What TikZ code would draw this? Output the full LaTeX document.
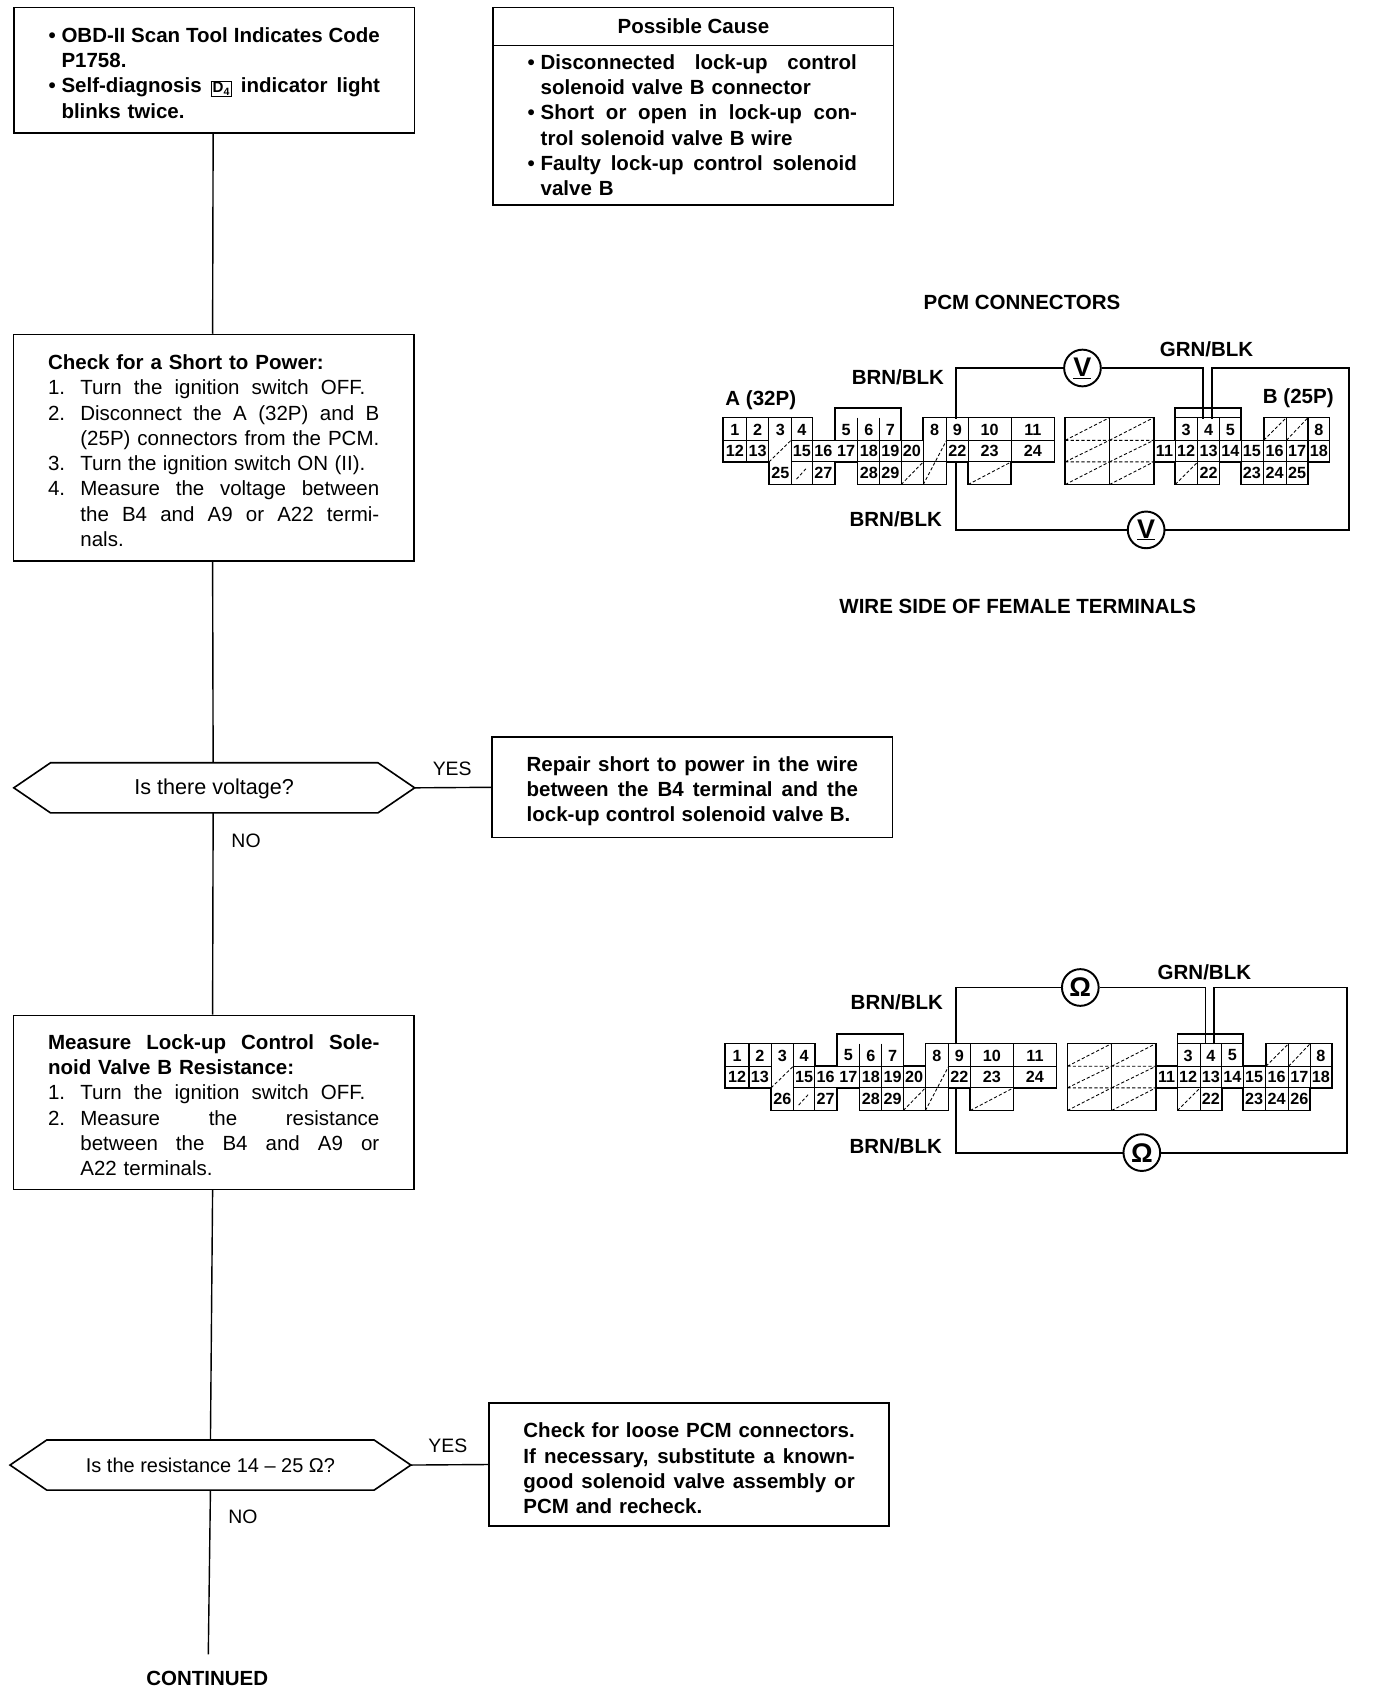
\documentclass[tikz,border=0pt]{standalone}
\usepackage{fontspec}
\setmainfont{Liberation Sans}
\usetikzlibrary{calc}
\newcommand{\fullline}[2]{\makebox[#1pt][s]{\spaceskip=0pt\xspaceskip=0pt #2}}
\newcommand{\tp}{\rule{0pt}{19pt}}
\newcommand{\tpp}{\rule{0pt}{21pt}}
\newcommand{\bul}[1]{\makebox[12pt][l]{\textbullet}\fullline{295}{#1}}
\newcommand{\bulr}[1]{\makebox[12pt][l]{\textbullet}#1}
\newcommand{\cont}[1]{\hspace*{12pt}#1}
\newcommand{\stp}[2]{\makebox[30pt][l]{#1}#2}
\newcommand{\stc}[1]{\hspace*{30pt}#1}
\newcommand{\hexline}[1]{\draw[hexl] (#1.west) -- ([xshift=34pt]#1.north west) -- ([xshift=-34pt]#1.north east) -- (#1.east) -- ([xshift=-34pt]#1.south east) -- ([xshift=34pt]#1.south west) -- cycle;}
\newcommand{\pcmconn}[3]{%
  \draw[outl] (670,387) -- (753,387) -- (753,408) -- (773.5,408) -- (773.5,378) -- (835,378) -- (835,408) -- (855.5,408) -- (855.5,387) -- (977,387) -- (977,428) -- (937,428) -- (937,449) -- (897,449) -- (897,428) -- (877,428) -- (877,449) -- (794.5,449) -- (794.5,428) -- (773.5,428) -- (773.5,449) -- (712.5,449) -- (712.5,428) -- (670,428) -- cycle;
  \draw[outl] (987,387) rectangle (1069,449);
  \draw[outl] (1069,408) -- (1089,408) -- (1089,378) -- (1150,378) -- (1150,408) -- (1171,408) -- (1171,387) -- (1232,387) -- (1232,428) -- (1212,428) -- (1212,449) -- (1150,449) -- (1150,428) -- (1130,428) -- (1130,449) -- (1089,449) -- (1089,428) -- (1069,428);
  \draw[gridl] (670,408) -- (712.5,408) (733,408) -- (835,408) (877,408) -- (977,408)
    (733,428) -- (773.5,428) (794.5,428) -- (877,428) (897,428) -- (937,428)
    (692,387) -- (692,428) (712.5,387) -- (712.5,428) (733,387) -- (733,449) (753,408) -- (753,449)
    (794.5,387) -- (794.5,428) (815,387) -- (815,449) (835,408) -- (835,449) (855.5,408) -- (855.5,449)
    (877,387) -- (877,428) (897,387) -- (897,428) (937,387) -- (937,428)
    (1028,387) -- (1028,449)
    (1089,408) -- (1150,408) (1171,408) -- (1232,408) (1089,428) -- (1130,428) (1150,428) -- (1212,428)
    (1089,387) -- (1150,387)
    (1110,387) -- (1110,449) (1130,387) -- (1130,428) (1150,408) -- (1150,428) (1171,408) -- (1171,449)
    (1192,387) -- (1192,449) (1212,387) -- (1212,428) (1089,408) -- (1089,428);
  \draw[hatchl] (987,408) -- (1069,408) (987,428) -- (1069,428)
    (712.5,428) -- (733,408) (738,444) -- (748,433) (835,449) -- (855.5,428) (855.5,449) -- (877,408) (897,449) -- (937,428)
    (987,408) -- (1028,387) (1028,408) -- (1069,387) (987,428) -- (1028,408) (1028,428) -- (1069,408) (987,449) -- (1028,428) (1028,449) -- (1069,428)
    (1089,449) -- (1110,428) (1171,408) -- (1192,387) (1192,408) -- (1212,387);
  \foreach \nm/\px/\py/\lab in {A1/681/398/1,A2/702/398/2,A3/723/398/3,A4/743/398/4,A5/784/398/5,A6/805/398/6,A7/825/398/7,A8/866/398/8,A9/887/398/9,A10/917/398/10,A11/957/398/11,
    A12/681/418/12,A13/702/418/13,A15/743/418/15,A16/763/418/16,A17/784/418/17,A18/805/418/18,A19/825/418/19,A20/845/418/20,A22/887/418/22,A23/917/418/23,A24/957/418/24,
    A25/723/438.5/#2,A27/763/438.5/27,A28/805/438.5/28,A29/825/438.5/29,
    B3/1099/398/3,B4/1120/398/4,B5/1140/398/5,B8/1222/398/8,
    B11/1079/418/11,B12/1099/418/12,B13/1120/418/13,B14/1140/418/14,B15/1160/418/15,B16/1181/418/16,B17/1202/418/17,B18/1222/418/18,
    B22/1120/438.5/22,B23/1160/438.5/23,B24/1181/438.5/24,B25/1202/438.5/#3}
    {\node[num] (#1-\nm) at (\px,\py) {\lab};}
}
\tikzset{
  x=1pt,y=-1pt,
  fbox/.style={draw=black,line width=1.5pt,inner xsep=32pt,inner ysep=0pt,text width=307pt,align=left,minimum width=371pt,font=\fontsize{19}{23.4}\selectfont},
  bbody/.style={fbox,font=\fontsize{19}{23.4}\selectfont\bfseries},
  hexa/.style={minimum width=371pt,minimum height=46pt,inner sep=0pt,text height=13pt,text depth=0pt},
  hexl/.style={line width=1.5pt},
  flow/.style={line width=1.3pt},
  lbl/.style={font=\fontsize{18}{22}\selectfont,inner sep=0pt},
  blbl/.style={font=\fontsize{19}{22}\selectfont\bfseries,inner sep=0pt},
  num/.style={font=\fontsize{15}{16}\selectfont\bfseries,inner sep=0pt,minimum width=20pt,minimum height=20pt},
  outl/.style={line width=1.5pt,line join=miter},
  gridl/.style={line width=1pt},
  hatchl/.style={line width=0.8pt,densely dashed},
  wire/.style={line width=1.8pt},
  meter/.style={draw=black,circle,line width=1.8pt,minimum size=34pt,inner sep=0pt,fill=white,font=\fontsize{25}{25}\selectfont\bfseries},
}
\begin{document}
\begin{tikzpicture}
\useasboundingbox (0,0) rectangle (1275,1567.8);
\fill[white] (0,0) rectangle (1275,1567.8);
% left column boxes
\node[bbody,minimum height=116pt] (start) at (198.5,65) {\tp\bul{OBD-II Scan Tool Indicates Code}\\ \cont{P1758.}\\ \bul{Self-diagnosis {\fboxsep=1pt\fboxrule=0.8pt\fbox{\fontsize{14}{14}\selectfont D\textsubscript{4}}} indicator light}\\ \cont{blinks twice.}};
\node[fbox,minimum height=210pt] (short) at (198,415) {\tp\textbf{Check for a Short to Power:}\\ \stp{1.}{\fullline{264}{Turn the ignition switch OFF.}}\\ \stp{2.}{\fullline{277}{Disconnect the A (32P) and B}}\\ \stc{\fullline{277}{(25P) connectors from the PCM.}}\\ \stp{3.}{\fullline{264}{Turn the ignition switch ON (II).}}\\ \stp{4.}{\fullline{277}{Measure the voltage between}}\\ \stc{\fullline{277}{the B4 and A9 or A22 termi-}}\\ \stc{nals.}};
\node[hexa,font=\fontsize{20}{22}\selectfont] (q1) at (198.5,730) {Is there voltage?};
\hexline{q1}
\node[fbox,minimum height=161pt] (meas) at (198,1021.5) {\tp\textbf{\fullline{307}{Measure Lock-up Control Sole-}}\\ \textbf{noid Valve B Resistance:}\\ \stp{1.}{\fullline{264}{Turn the ignition switch OFF.}}\\ \stp{2.}{\fullline{277}{Measure the resistance}}\\ \stc{\fullline{277}{between the B4 and A9 or}}\\ \stc{A22 terminals.}};
\node[hexa,font=\fontsize{18.5}{22}\selectfont] (q2) at (195,1357.5) {Is the resistance 14 – 25 Ω?};
\hexline{q2}
\coordinate (cont) at (193,1533);
\node[blbl] (contl) at (192,1555) {CONTINUED};
% right column boxes
\node[draw=black,line width=1.5pt,minimum width=371pt,minimum height=35pt,inner sep=0pt,font=\fontsize{19}{22}\selectfont\bfseries] (pch) at (642.5,24.5) {Possible Cause};
\node[bbody,minimum height=148pt] (pcb) at (642.5,116) {\bulr{\fullline{293}{Disconnected lock-up control}}\\ \cont{solenoid valve B connector}\\ \bulr{\fullline{293}{Short or open in lock-up con-}}\\ \cont{trol solenoid valve B wire}\\ \bulr{\fullline{293}{Faulty lock-up control solenoid}}\\ \cont{valve B}};
\node[bbody,minimum height=93pt] (rep) at (641.5,729.5) {\tpp\fullline{307}{Repair short to power in the wire}\\ \fullline{307}{between the B4 terminal and the}\\ \fullline{300}{lock-up control solenoid valve B.}};
\node[bbody,minimum height=114pt] (chk) at (638.5,1357) {\tpp\fullline{307}{Check for loose PCM connectors.}\\ \fullline{307}{If necessary, substitute a known-}\\ \fullline{307}{good solenoid valve assembly or}\\ PCM and recheck.};
% flow connectors
\draw[flow] ([xshift=-1pt]start.south) -- ([xshift=-1pt]short.north);
\draw[flow] ([xshift=-1pt]short.south) -- ([xshift=-1pt]q1.north);
\draw[flow] ([xshift=-1pt]q1.south) -- ([xshift=-1pt]meas.north);
\draw[flow] ([xshift=-1pt]meas.south) -- (q2.north);
\draw[flow] (q2.south) -- (cont);
\draw[flow] (q1.east) -- (rep.west);
\draw[flow] (q2.east) -- (chk.west);
\node[lbl] (y1) at (419,712) {YES};
\node[lbl] (n1) at (228,779) {NO};
\node[lbl] (y2) at (415,1340) {YES};
\node[lbl] (n2) at (225,1405) {NO};
% connectors: voltage test
\pcmconn{c}{25}{25}
\node[blbl] (pcm) at (947,280) {PCM CONNECTORS};
\node[blbl] (wside) at (943,562) {WIRE SIDE OF FEMALE TERMINALS};
\node[blbl] (grn1) at (1118,324) {GRN/BLK};
\node[blbl] (brn1) at (832,350) {BRN/BLK};
\node[blbl] (brn2) at (830,481) {BRN/BLK};
\node[blbl,anchor=west] (la) at (672,371) {A (32P)};
\node[blbl] (lb) at (1203,369) {B (25P)};
\node[meter] (v1) at (1003,341) {\underline{V}};
\node[meter] (v2) at (1062,491) {\underline{V}};
\coordinate (vtr) at (1250,341);
\coordinate (vbr) at (1250,491);
\draw[wire] ([xshift=-1pt]c-A9.north) |- (v1.west);
\draw[wire] (v1.east) -| ([xshift=-5pt]c-B4.north);
\draw[wire] ([xshift=3pt]c-B4.north) |- (vtr) -- (vbr) -- (v2.east);
\draw[wire] (v2.west) -| ([xshift=-1pt]c-A22.south);
% connectors: resistance test
\begin{scope}[shift={(2,580)}]
\pcmconn{d}{26}{26}
\end{scope}
\node[blbl] (grn3) at (1116,901) {GRN/BLK};
\node[blbl] (brn3) at (831,929) {BRN/BLK};
\node[blbl] (brn4) at (830,1062) {BRN/BLK};
\node[meter] (o1) at (1001,915) {Ω};
\node[meter] (o2) at (1058,1068) {Ω};
\coordinate (otr) at (1248,915);
\coordinate (obr) at (1248,1068);
\draw[wire] ([xshift=-3pt]d-A9.north) |- (o1.west);
\draw[wire] (o1.east) -| ([xshift=-5pt]d-B4.north);
\draw[wire] ([xshift=3pt]d-B4.north) |- (otr) -- (obr) -- (o2.east);
\draw[wire] (o2.west) -| ([xshift=-3pt]d-A22.south);
\end{tikzpicture}
\end{document}
